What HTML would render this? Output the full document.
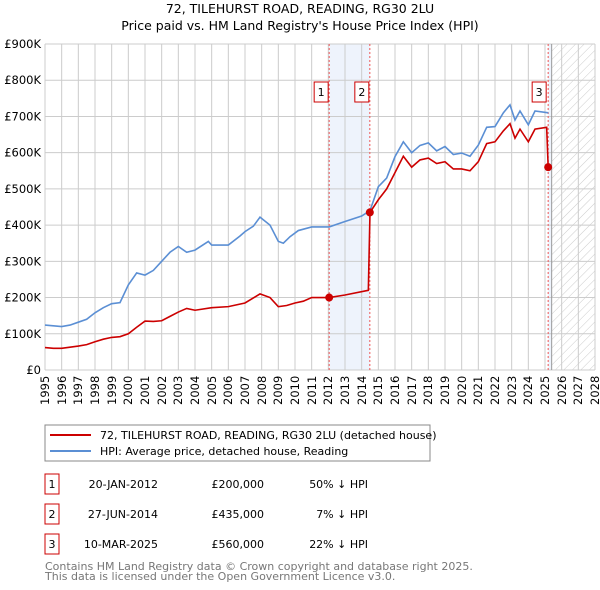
<!DOCTYPE html>
<html><head><meta charset="utf-8"><style>
body{margin:0;width:600px;height:590px;background:#fff;font-family:"DejaVu Sans","Liberation Sans",sans-serif;overflow:hidden;position:relative}
svg text{font-family:"DejaVu Sans","Liberation Sans",sans-serif}
.xl{position:absolute;top:373px;width:14px;height:32px;font-size:11.5px;line-height:14px;writing-mode:vertical-rl;transform:rotate(180deg);text-align:left;white-space:nowrap}
</style></head><body>
<svg id="c" width="600" height="590" xmlns="http://www.w3.org/2000/svg" style="position:absolute;left:0;top:0">
<defs><pattern id="hatch" width="6" height="6" patternUnits="userSpaceOnUse" patternTransform="rotate(45)"><line x1="0" y1="0" x2="0" y2="6" stroke="#ccc" stroke-width="1"/></pattern></defs>
<text x="300" y="13" text-anchor="middle" font-size="12.5">72, TILEHURST ROAD, READING, RG30 2LU</text>
<text x="300" y="30" text-anchor="middle" font-size="12.5">Price paid vs. HM Land Registry's House Price Index (HPI)</text>
<g id="plot"></g>
<rect x="45" y="425" width="385" height="36" fill="#fff" stroke="#888"/>
<line x1="50" y1="435" x2="91" y2="435" stroke="#cc0000" stroke-width="2"/>
<text x="100" y="439" font-size="11">72, TILEHURST ROAD, READING, RG30 2LU (detached house)</text>
<line x1="50" y1="451" x2="91" y2="451" stroke="#5b8fd4" stroke-width="2"/>
<text x="100" y="455" font-size="11">HPI: Average price, detached house, Reading</text>
<g id="table" font-size="11"></g>
<text x="45" y="570" font-size="11" fill="#777">Contains HM Land Registry data © Crown copyright and database right 2025.</text>
<text x="45" y="580" font-size="11" fill="#777">This data is licensed under the Open Government Licence v3.0.</text>
</svg>
<div id="xlabels"></div>
<script>
const yearTicks=[1995,1996,1997,1998,1999,2000,2001,2002,2003,2004,2005,2006,2007,2008,2009,2010,2011,2012,2013,2014,2015,2016,2017,2018,2019,2020,2021,2022,2023,2024,2025,2026,2027,2028];
const priceTicks=[0,100000,200000,300000,400000,500000,600000,700000,800000,900000];
const priceTickLabels=["£0","£100K","£200K","£300K","£400K","£500K","£600K","£700K","£800K","£900K"];
const hpiYears=[1995,1995.5,1996,1996.5,1997,1997.5,1998,1998.5,1999,1999.5,2000,2000.5,2001,2001.5,2002,2002.5,2003,2003.5,2004,2004.8,2005,2006,2006.7,2007,2007.5,2007.9,2008.5,2009,2009.3,2009.7,2010.2,2011,2011.5,2012.05,2013,2014,2014.5,2015,2015.5,2016,2016.5,2017,2017.5,2018,2018.5,2019,2019.5,2020,2020.5,2021,2021.5,2022,2022.5,2022.9,2023.2,2023.5,2024,2024.4,2025.2];
const hpiValues=[124,122,120,124,132,140,158,172,183,186,235,268,262,275,300,325,341,325,331,355,345,345,370,382,397,422,400,355,350,368,385,395,395,395,410,425,440,506,530,589,630,600,620,627,605,617,595,599,590,621,670,672,710,732,690,715,677,715,710];
const ppYears=[1995,1995.5,1996,1996.5,1997,1997.5,1998,1998.5,1999,1999.5,2000,2000.5,2001,2001.5,2002,2002.5,2003,2003.5,2004,2005,2006,2007,2007.9,2008.5,2009,2009.5,2010,2010.5,2011,2012.05,2013,2014.4,2014.5,2015,2015.5,2016,2016.5,2017,2017.5,2018,2018.5,2019,2019.5,2020,2020.5,2021,2021.5,2022,2022.5,2022.9,2023.2,2023.5,2024,2024.4,2025.1,2025.19];
const ppValues=[62,60,60,63,66,70,78,85,90,92,100,118,135,134,136,148,160,170,165,172,175,185,210,200,175,178,185,190,200,200,207,220,435,470,500,545,590,560,580,585,570,575,555,555,550,575,625,630,660,680,640,665,630,665,670,560];
const saleYears=[2012.05,2014.49,2025.19];
const saleValues=[200,435,560];
const saleLabels=["1","2","3"];
const saleDates=["20-JAN-2012","27-JUN-2014","10-MAR-2025"];
const salePrices=["£200,000","£435,000","£560,000"];
const saleDiffs=["50% ↓ HPI","7% ↓ HPI","22% ↓ HPI"];
const NS="http://www.w3.org/2000/svg";
const X0=45,X1=595,Y0=370,Y1=44;
const xs=y=>X0+(y-1995)/(2028-1995)*(X1-X0);
const ys=v=>Y0-v/900000*(Y0-Y1);
const yk=v=>ys(v*1000);
function el(tag,attrs,parent,text){const e=document.createElementNS(NS,tag);for(const k in attrs)e.setAttribute(k,attrs[k]);if(text!==undefined)e.textContent=text;parent.appendChild(e);return e;}
const g=document.getElementById('plot');
const xl=document.getElementById('xlabels');
const band=el('rect',{x:xs(saleYears[0]),y:Y1,width:xs(saleYears[1])-xs(saleYears[0]),height:Y0-Y1,fill:'#eef3fc'},g);


const band2=el('rect',{x:xs(saleYears[2]),y:Y1,width:xs(2025.4)-xs(saleYears[2]),height:Y0-Y1,fill:'#eef3fc'},g);


const hatch=el('rect',{x:xs(2025.4),y:Y1,width:X1-xs(2025.4),height:Y0-Y1,fill:'url(#hatch)'},g);


yearTicks.forEach(y=>{const l=el('line',{x1:xs(y),x2:xs(y),y1:Y1,y2:Y0,stroke:'#ccc'},g);


const d=document.createElement('div');
d.className='xl';
d.style.left=(xs(y)-7)+'px';
d.textContent=String(y);


xl.appendChild(d);});
priceTicks.forEach((v,i)=>{const l=el('line',{x1:X0,x2:X1,y1:ys(v),y2:ys(v),stroke:'#ccc'},g);


const t=el('text',{x:41,y:ys(v)+4,'text-anchor':'end','font-size':'11.5'},g,priceTickLabels[i]);

});
const nowLine=el('line',{x1:xs(2025.4),x2:xs(2025.4),y1:Y1,y2:Y0,stroke:'#999'},g);


saleYears.forEach((y,i)=>{const l=el('line',{x1:xs(y),x2:xs(y),y1:Y1,y2:Y0,stroke:'#e55','stroke-dasharray':'2,2'},g);

});
const hp=el('polyline',{points:hpiYears.map((y,i)=>xs(y)+','+yk(hpiValues[i])).join(' '),fill:'none',stroke:'#5b8fd4','stroke-width':1.6},g);


const pp=el('polyline',{points:ppYears.map((y,i)=>xs(y)+','+yk(ppValues[i])).join(' '),fill:'none',stroke:'#cc0000','stroke-width':1.6},g);


saleYears.forEach((y,i)=>{const c=el('circle',{cx:xs(y),cy:yk(saleValues[i]),r:4,fill:'#cc0000'},g);


const b=el('rect',{x:xs(y)-(i==2?16:15),y:82,width:14,height:20,fill:'#fff',stroke:'#cc0000'},g);


const t=el('text',{x:xs(y)-(i==2?9:8),y:96,'text-anchor':'middle','font-size':'11'},g,saleLabels[i]);

});
const tb=document.getElementById('table');
saleLabels.forEach((s,i)=>{const yy=475+i*30;
const r=el('rect',{x:45,y:yy-1,width:14,height:20,fill:'#fff',stroke:'#cc0000'},tb);


const a=el('text',{x:52,y:yy+13,'text-anchor':'middle'},tb,s);


const b=el('text',{x:158,y:yy+13,'text-anchor':'end'},tb,saleDates[i]);


const c=el('text',{x:264,y:yy+13,'text-anchor':'end'},tb,salePrices[i]);


const d=el('text',{x:368,y:yy+13,'text-anchor':'end'},tb,saleDiffs[i]);

});
</script>
</body></html>
